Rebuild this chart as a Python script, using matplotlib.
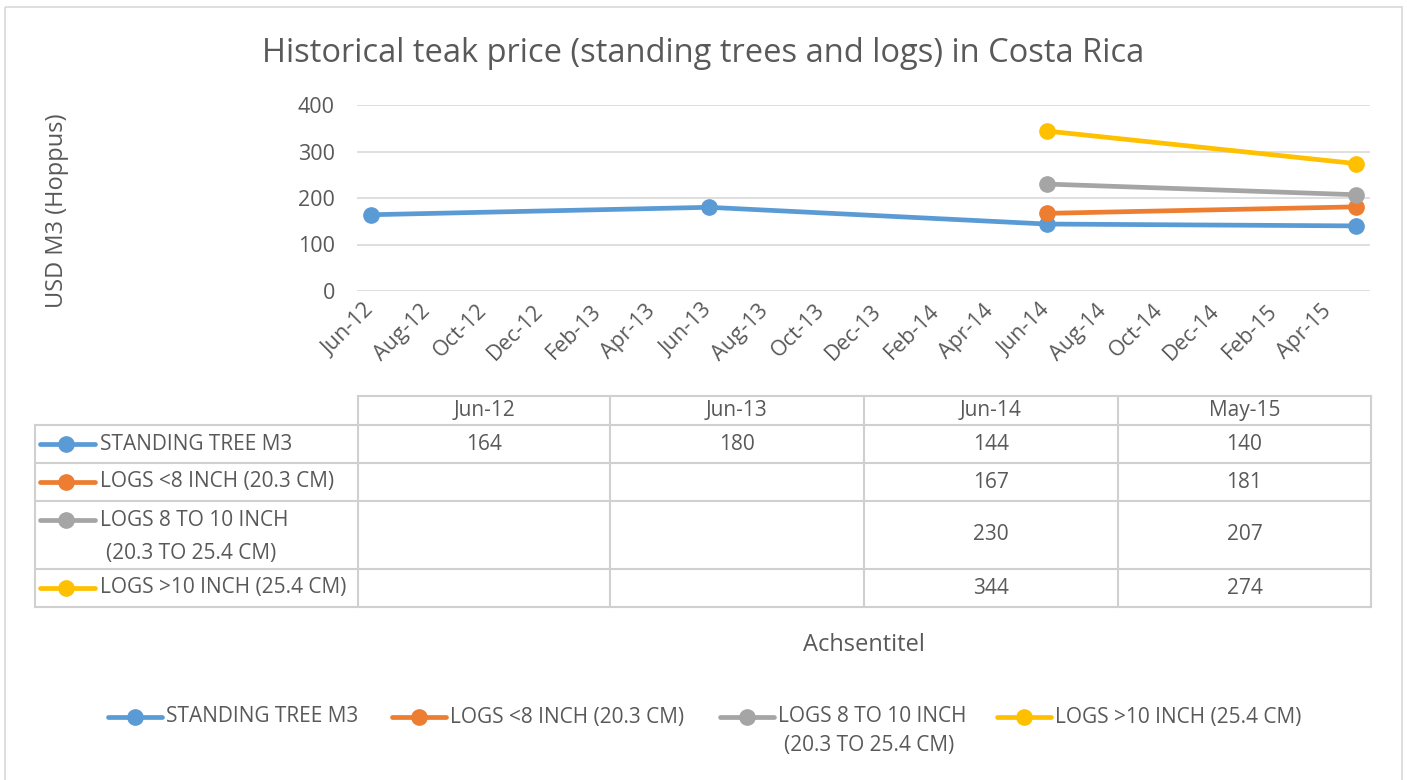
import matplotlib
matplotlib.use("Agg")
import matplotlib.pyplot as plt
import matplotlib.dates as mdates
from matplotlib.lines import Line2D
import datetime as dt

plt.rcParams['font.family'] = ['Open Sans', 'DejaVu Sans']

# data
dates = [dt.date(2012, 6, 1), dt.date(2013, 6, 1), dt.date(2014, 6, 1), dt.date(2015, 5, 1)]
date_labels = ["Jun-12", "Jun-13", "Jun-14", "May-15"]
series_names = ["STANDING TREE M3", "LOGS <8 INCH (20.3 CM)",
                "LOGS 8 TO 10 INCH\n(20.3 TO 25.4 CM)", "LOGS >10 INCH (25.4 CM)"]
standing_tree = [164, 180, 144, 140]
logs_small = [None, None, 167, 181]
logs_mid = [None, None, 230, 207]
logs_large = [None, None, 344, 274]
colors = ["#5B9BD5", "#ED7D31", "#A5A5A5", "#FFC000"]

all_series = [standing_tree, logs_small, logs_mid, logs_large]

txt = "#595959"
grid_c = "#D9D9D9"
W, H = 1407, 780
fs_tab = 15
lw, ms = 3.4, 11

fig = plt.figure(figsize=(W / 100, H / 100), dpi=100)

# overlay in pixel coordinates for table, legend, border
ov = fig.add_axes([0, 0, 1, 1], zorder=0)
ov.set_xlim(0, W)
ov.set_ylim(H, 0)
ov.axis("off")

# main chart
left, right, top, bottom = 357, 1370, 105, 291
ax = fig.add_axes([left / W, 1 - bottom / H, (right - left) / W, (bottom - top) / H], zorder=1)
ax.patch.set_alpha(0)

for vals, c, name in zip(all_series, colors, series_names):
    xs = [d for d, v in zip(dates, vals) if v is not None]
    ys = [v for v in vals if v is not None]
    ax.plot(xs, ys, color=c, lw=lw, marker="o", ms=ms, label=name, solid_capstyle="round")

x0 = mdates.date2num(dates[0]) - 15
x1 = mdates.date2num(dates[-1]) + 15
ax.set_xlim(x0, x1)
ax.set_ylim(0, 400)
ax.set_yticks([0, 100, 200, 300, 400])
ax.xaxis.set_major_locator(mdates.MonthLocator(bymonth=[2, 4, 6, 8, 10, 12]))
ax.xaxis.set_major_formatter(mdates.DateFormatter("%b-%y"))
ax.grid(axis="y", color=grid_c, lw=1.2)
ax.set_axisbelow(True)
for s in ax.spines.values():
    s.set_visible(False)
ax.tick_params(axis="both", length=0, colors=txt, labelsize=15.5)
ax.tick_params(axis="y", pad=16)
ax.tick_params(axis="x", pad=12)
for lab in ax.get_xticklabels():
    lab.set_rotation(45)
    lab.set_ha("right")
    lab.set_va("center")
    lab.set_rotation_mode("anchor")

fig.text(57 / W, 1 - 211 / H, "USD M3 (Hoppus)", rotation=90, ha="center", va="center",
         color=txt, fontsize=17)
fig.text(0.5, 1 - 54 / H, "Historical teak price (standing trees and logs) in Costa Rica",
         ha="center", va="center", color=txt, fontsize=23.5)

# data table
col_x = [358, 610, 864, 1118, 1371]
row_y = [396, 425, 463, 501, 569, 607]
tab_left = 35
lc = "#D0D0D0"
ov.plot([col_x[0], col_x[-1]], [row_y[0], row_y[0]], color=lc, lw=1.5)
for y in row_y[1:]:
    ov.plot([tab_left, col_x[-1]], [y, y], color=lc, lw=1.5)
for x in col_x:
    ov.plot([x, x], [row_y[0], row_y[-1]], color=lc, lw=1.5)
ov.plot([tab_left, tab_left], [row_y[1], row_y[-1]], color=lc, lw=1.5)

for i, lab in enumerate(date_labels):
    ov.text((col_x[i] + col_x[i + 1]) / 2, (row_y[0] + row_y[1]) / 2, lab,
            ha="center", va="center", color=txt, fontsize=fs_tab)

for r, (vals, c, name) in enumerate(zip(all_series, colors, series_names)):
    yc = (row_y[r + 1] + row_y[r + 2]) / 2
    lines = name.split("\n")
    key_y = yc if len(lines) == 1 else yc - 15
    ov.add_line(Line2D([40, 95], [key_y, key_y], color=c, lw=lw, solid_capstyle="round"))
    ov.plot([66], [key_y], "o", color=c, ms=ms)
    if len(lines) == 1:
        ov.text(100, yc, name, ha="left", va="center", color=txt, fontsize=fs_tab)
    else:
        ov.text(100, yc - 15, lines[0], ha="left", va="center", color=txt, fontsize=fs_tab)
        ov.text(106, yc + 19, lines[1], ha="left", va="center", color=txt, fontsize=fs_tab)
    for i, v in enumerate(vals):
        if v is not None:
            ov.text((col_x[i] + col_x[i + 1]) / 2, yc, str(v), ha="center", va="center",
                    color=txt, fontsize=fs_tab)

ov.text((left + right) / 2, 645, "Achsentitel", ha="center", va="center", color=txt, fontsize=17)

# legend at bottom
leg_x = [108, 392, 720, 997]
leg_y = 717
for lx, c, name in zip(leg_x, colors, series_names):
    ov.add_line(Line2D([lx, lx + 54], [leg_y, leg_y], color=c, lw=lw, solid_capstyle="round"))
    ov.plot([lx + 27], [leg_y], "o", color=c, ms=ms)
    lines = name.split("\n")
    ov.text(lx + 58, leg_y, lines[0], ha="left", va="center", color=txt, fontsize=fs_tab)
    if len(lines) > 1:
        ov.text(lx + 64, leg_y + 29, lines[1], ha="left", va="center", color=txt, fontsize=fs_tab)

# outer border
ov.add_patch(plt.Rectangle((5, 7), 1397, 790, fill=False, ec=grid_c, lw=1.2))

fig.savefig("out.png", dpi=100, facecolor="white")
